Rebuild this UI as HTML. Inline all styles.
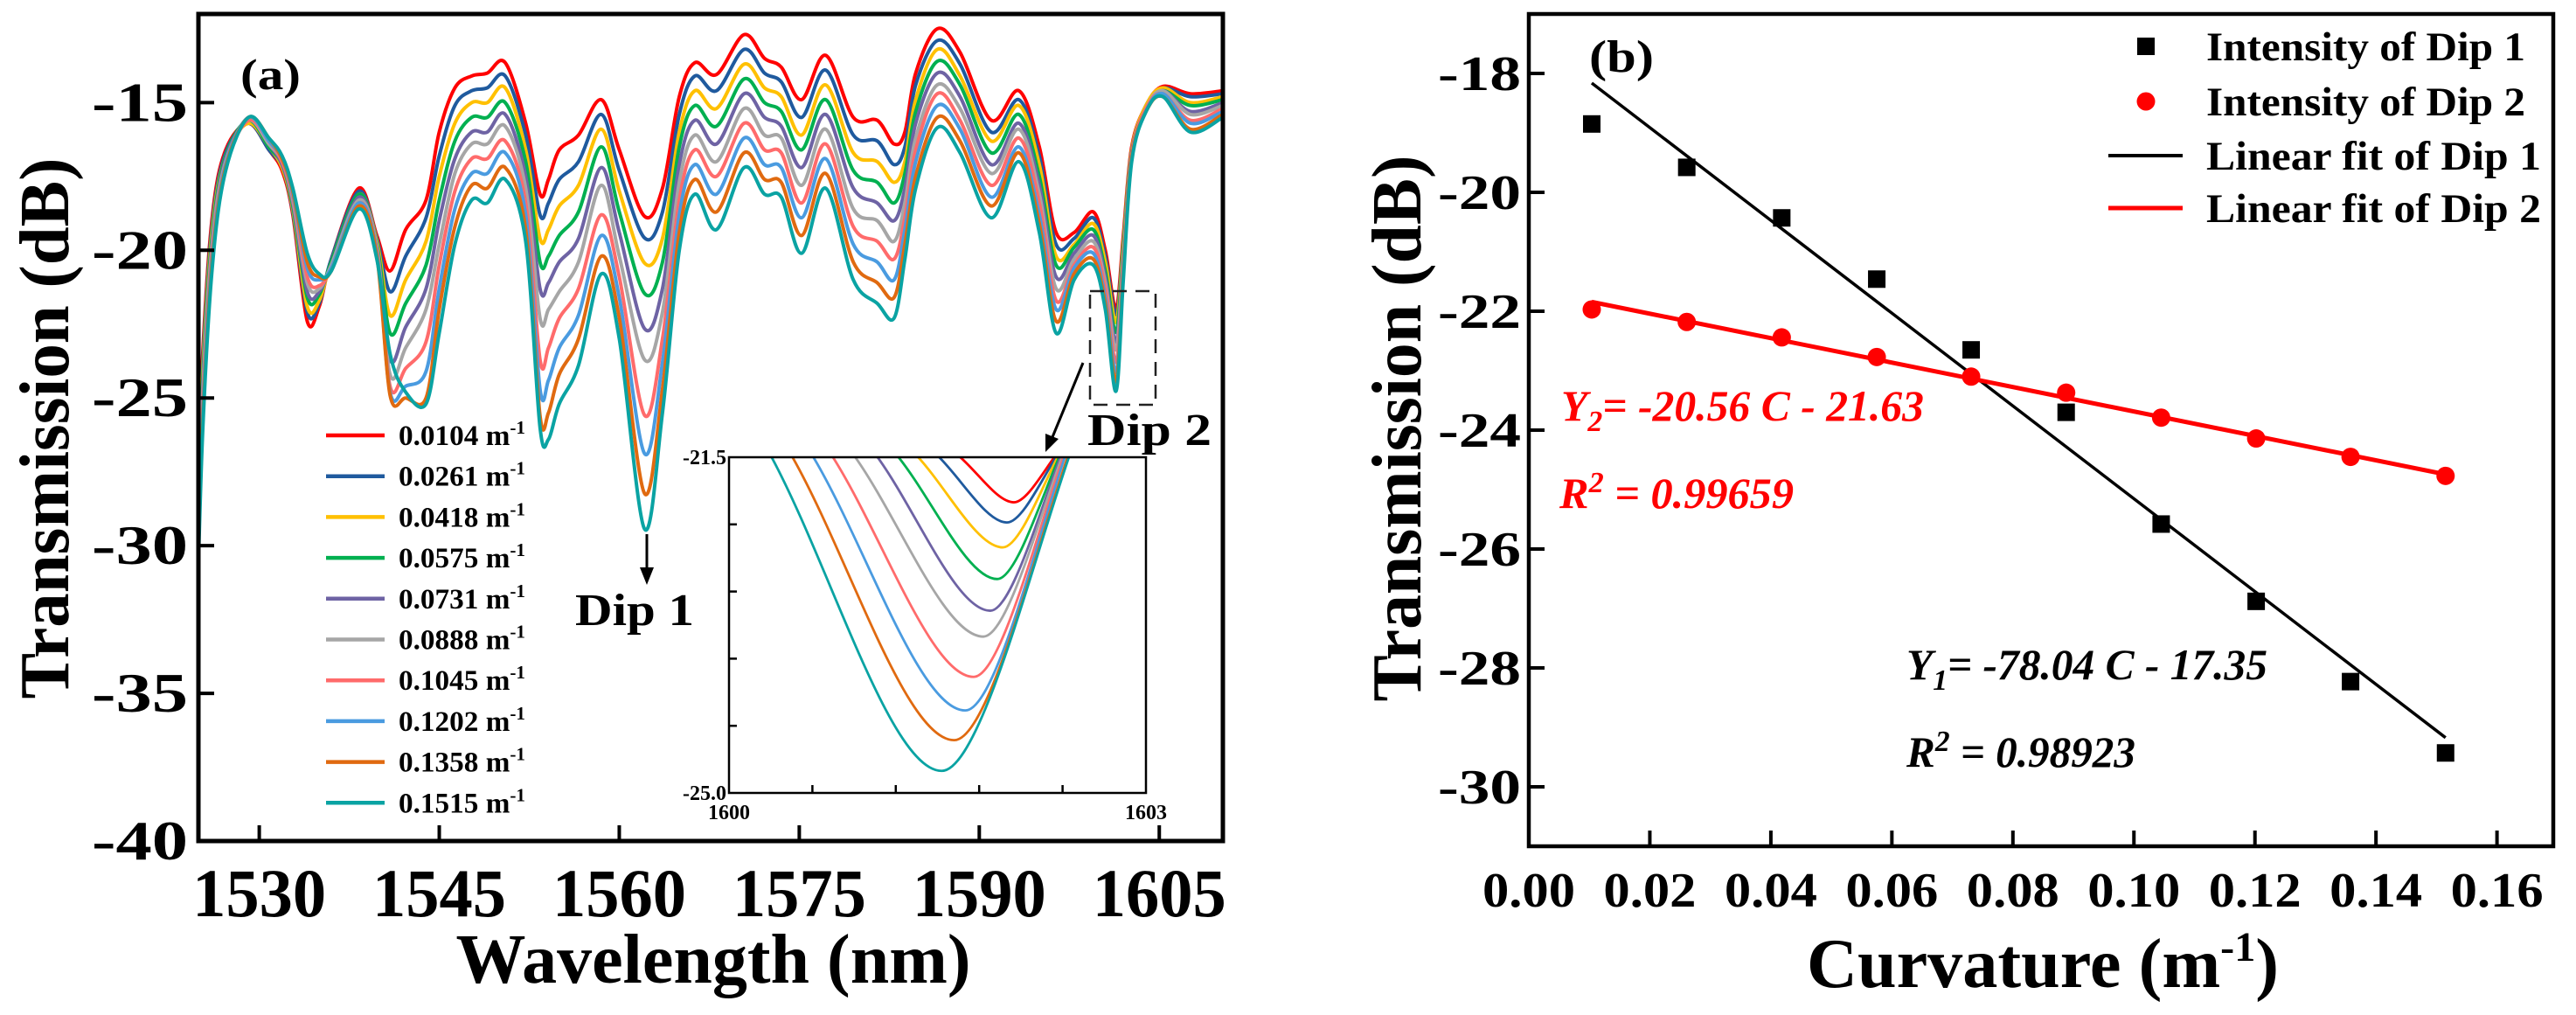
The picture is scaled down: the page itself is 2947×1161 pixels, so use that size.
<!DOCTYPE html>
<html><head><meta charset="utf-8">
<style>
html,body{margin:0;padding:0;background:#fff;overflow:hidden;}
svg{display:block;}
text{font-family:"Liberation Serif","DejaVu Serif",serif;font-weight:bold;fill:#000;}
</style></head>
<body>
<svg id="fig" width="2947" height="1161" viewBox="0 0 2947 1161" xmlns="http://www.w3.org/2000/svg">
<defs>
<clipPath id="clipA"><rect x="227" y="16" width="1172" height="946"/></clipPath>
<clipPath id="clipInset"><rect x="834" y="523" width="477" height="384"/></clipPath>
</defs>
<g id="panelA"></g>
<g id="panelB"></g>
</svg>
<script>
// ---------- Panel (a) data ----------
const wavelengths=[1524.85,1525.3,1526.1,1527.2,1529.1,1530.8,1531.9,1532.8,1534.0,1535.0,1536.0,1538.3,1539.8,1540.9,1542.2,1543.9,1545.0,1546.3,1547.7,1549.0,1550.5,1552.2,1553.4,1554.1,1555.0,1556.6,1558.5,1560.0,1562.1,1563.6,1565.0,1566.3,1568.1,1570.4,1572.1,1573.5,1575.2,1577.2,1579.5,1581.5,1582.9,1583.8,1584.7,1586.5,1588.4,1591.0,1593.3,1595.0,1596.4,1597.9,1599.5,1600.5,1601.4,1602.0,1602.7,1603.9,1605.3,1607.6,1610.3];
const c0104=[-28.5,-23.4,-18.8,-16.6,-15.7,-16.6,-17.3,-18.8,-22.4,-21.9,-20.3,-17.9,-19.5,-20.7,-19.3,-18.3,-16.0,-14.5,-14.1,-14.0,-13.65,-15.7,-18.1,-17.6,-16.6,-16.1,-14.9,-16.6,-18.85,-17.9,-14.8,-13.65,-14.05,-12.7,-13.5,-13.8,-14.9,-13.4,-15.5,-15.6,-16.4,-16.0,-14.0,-12.5,-13.3,-15.6,-14.6,-16.5,-19.4,-19.4,-18.7,-20.0,-21.97,-19.5,-16.5,-15.1,-14.45,-14.7,-14.6];
const c0261=[-28.9,-23.7,-19.0,-16.7,-15.7,-16.6,-17.2,-18.7,-22.1,-21.8,-20.3,-18.0,-19.6,-21.4,-20.2,-18.9,-16.8,-15.1,-14.6,-14.5,-14.1,-16.1,-18.8,-18.4,-17.6,-17.0,-15.4,-17.3,-19.58,-18.7,-15.4,-14.1,-14.6,-13.2,-14.0,-14.3,-15.5,-13.9,-16.1,-16.3,-17.1,-16.5,-14.4,-12.9,-13.7,-16.0,-14.9,-16.8,-19.8,-19.6,-18.9,-20.2,-22.18,-19.7,-16.6,-15.1,-14.5,-14.8,-14.7];
const c0418=[-29.2,-24.0,-19.2,-16.8,-15.7,-16.5,-17.2,-18.6,-21.9,-21.7,-20.4,-18.1,-19.7,-22.2,-21.0,-19.7,-17.5,-15.7,-15.0,-15.0,-14.5,-16.6,-19.6,-19.3,-18.5,-17.8,-15.9,-18.0,-20.43,-19.6,-16.0,-14.6,-15.2,-13.7,-14.5,-14.8,-16.1,-14.4,-16.7,-17.0,-17.7,-17.0,-14.9,-13.2,-14.1,-16.3,-15.1,-17.1,-20.2,-19.8,-19.1,-20.4,-22.44,-19.8,-16.6,-15.1,-14.5,-15.0,-14.8];
const c0575=[-29.6,-24.3,-19.4,-16.8,-15.6,-16.5,-17.1,-18.5,-21.6,-21.5,-20.4,-18.1,-19.8,-22.8,-21.8,-20.5,-18.3,-16.3,-15.5,-15.5,-15.0,-17.0,-20.4,-20.2,-19.5,-18.7,-16.5,-18.7,-21.46,-20.4,-16.5,-15.1,-15.8,-14.2,-15.0,-15.3,-16.6,-14.9,-17.3,-17.7,-18.4,-17.4,-15.3,-13.6,-14.4,-16.7,-15.4,-17.5,-20.5,-19.9,-19.3,-20.7,-22.77,-20.0,-16.7,-15.2,-14.6,-15.1,-14.9];
const c0731=[-30.0,-24.6,-19.6,-16.9,-15.6,-16.4,-17.1,-18.4,-21.4,-21.4,-20.5,-18.2,-19.9,-23.7,-22.6,-21.3,-19.0,-16.9,-16.0,-16.0,-15.4,-17.5,-21.3,-21.1,-20.4,-19.6,-17.2,-19.4,-22.65,-21.3,-17.1,-15.6,-16.4,-14.7,-15.5,-15.8,-17.2,-15.4,-17.9,-18.4,-19.0,-17.9,-15.7,-14.0,-14.8,-17.1,-15.7,-17.8,-20.9,-20.1,-19.5,-20.9,-23.1,-20.2,-16.7,-15.2,-14.6,-15.3,-15.0];
const c0888=[-30.3,-24.8,-19.7,-17.0,-15.6,-16.4,-17.0,-18.3,-21.1,-21.3,-20.5,-18.3,-19.9,-24.2,-23.3,-22.0,-19.8,-17.4,-16.4,-16.4,-15.8,-17.9,-22.3,-22.0,-21.4,-20.4,-17.8,-20.2,-23.7,-22.1,-17.7,-16.1,-17.0,-15.2,-16.1,-16.2,-17.8,-15.9,-18.6,-19.0,-19.7,-18.4,-16.2,-14.4,-15.2,-17.4,-15.9,-18.1,-21.3,-20.3,-19.7,-21.1,-23.37,-20.3,-16.8,-15.2,-14.6,-15.4,-15.1];
const c1045=[-30.7,-25.1,-19.9,-17.1,-15.6,-16.3,-17.0,-18.2,-20.9,-21.2,-20.6,-18.4,-20.0,-24.6,-24.0,-23.1,-20.5,-18.0,-16.9,-16.9,-16.3,-18.4,-23.7,-23.3,-22.3,-21.3,-18.8,-20.9,-25.58,-23.0,-18.3,-16.6,-17.5,-15.7,-16.6,-16.7,-18.4,-16.4,-19.2,-19.7,-20.3,-18.9,-16.6,-14.7,-15.6,-17.8,-16.2,-18.4,-21.7,-20.5,-19.9,-21.3,-23.79,-20.5,-16.8,-15.2,-14.7,-15.6,-15.2];
const c1202=[-31.1,-25.4,-20.1,-17.1,-15.5,-16.3,-16.9,-18.1,-20.6,-21.0,-20.6,-18.4,-20.1,-24.8,-24.6,-24.1,-21.3,-18.6,-17.4,-17.4,-16.7,-18.8,-24.7,-24.4,-23.3,-22.2,-19.5,-21.6,-26.88,-23.8,-18.8,-17.1,-18.1,-16.2,-17.1,-17.2,-18.9,-16.9,-19.8,-20.4,-21.0,-19.3,-17.0,-15.1,-15.9,-18.2,-16.5,-18.8,-22.0,-20.6,-20.1,-21.6,-24.14,-20.7,-16.9,-15.3,-14.7,-15.7,-15.3];
const c1358=[-31.4,-25.7,-20.3,-17.2,-15.5,-16.2,-16.9,-18.0,-20.4,-20.9,-20.7,-18.5,-20.2,-24.9,-25.0,-25.0,-22.0,-19.2,-17.8,-17.9,-17.2,-19.3,-25.6,-25.5,-24.2,-23.0,-20.2,-22.3,-28.23,-24.7,-19.4,-17.6,-18.7,-16.7,-17.6,-17.7,-19.5,-17.4,-20.4,-21.1,-21.6,-19.8,-17.5,-15.5,-16.3,-18.5,-16.7,-19.1,-22.4,-20.8,-20.3,-21.8,-24.45,-20.8,-16.9,-15.3,-14.8,-15.9,-15.4];
const c1515=[-31.8,-26.0,-20.5,-17.3,-15.5,-16.2,-16.8,-17.9,-20.1,-20.8,-20.7,-18.6,-20.3,-23.5,-24.8,-25.2,-22.8,-19.8,-18.3,-18.4,-17.6,-19.7,-26.0,-26.4,-25.2,-23.9,-20.8,-23.0,-29.43,-25.5,-20.0,-18.1,-19.3,-17.2,-18.1,-18.2,-20.1,-17.9,-21.0,-21.8,-22.3,-20.3,-17.9,-15.85,-16.7,-18.9,-17.0,-19.4,-22.8,-21.0,-20.5,-22.0,-24.77,-21.0,-17.0,-15.3,-14.8,-16.0,-15.5];
const curvLabels=["0.0104","0.0261","0.0418","0.0575","0.0731","0.0888","0.1045","0.1202","0.1358","0.1515"];
const xTicksA=[1530,1545,1560,1575,1590,1605];
const yTicksA=[-15,-20,-25,-30,-35,-40];
// inset (Dip 2 zoom) data
const insetLeftNm=[1601.65,1601.50,1601.35,1601.21,1601.06,1600.90,1600.74,1600.60,1600.45,1600.30];
const insetMinNm=[1602.05,1602.00,1601.97,1601.93,1601.88,1601.83,1601.76,1601.70,1601.62,1601.53];
const insetMinDb=[-21.97,-22.18,-22.44,-22.77,-23.1,-23.37,-23.79,-24.14,-24.45,-24.77];
const insetRightNm=[1602.35,1602.36,1602.37,1602.38,1602.39,1602.40,1602.41,1602.42,1602.44,1602.45];

// ---------- Panel (b) data ----------
const curvature=[0.0104,0.0261,0.0418,0.0575,0.0731,0.0888,0.1045,0.1202,0.1358,0.1515];
const dip1=[-18.85,-19.58,-20.43,-21.46,-22.65,-23.70,-25.58,-26.88,-28.23,-29.43];
const dip2=[-21.97,-22.18,-22.44,-22.77,-23.10,-23.37,-23.79,-24.14,-24.45,-24.77];
const fitSlope=[-78.04,-20.56];
const fitIntercept=[-17.35,-21.63];
const xTicksB=[0,0.02,0.04,0.06,0.08,0.10,0.12,0.14,0.16];
const yTicksB=[-18,-20,-22,-24,-26,-28,-30];

const colors=["#ff0000","#1f5a9e","#ffc000","#00b050","#6e63a4","#a6a6a6","#ff6b6b","#4a9be0","#e06a10","#0aa3a3"];
const NS="http://www.w3.org/2000/svg";
function mk(tag,attrs,parent){const e=document.createElementNS(NS,tag);for(const k in attrs)e.setAttribute(k,attrs[k]);parent.appendChild(e);return e;}
function smooth(p){let d=`M${p[0][0].toFixed(1)},${p[0][1].toFixed(1)}`;for(let i=0;i<p.length-1;i++){const p0=p[i-1]||p[i],p1=p[i],p2=p[i+1],p3=p[i+2]||p2;const c1=[p1[0]+(p2[0]-p0[0])/6,p1[1]+(p2[1]-p0[1])/6];const c2=[p2[0]-(p3[0]-p1[0])/6,p2[1]-(p3[1]-p1[1])/6];d+=` C${c1[0].toFixed(1)},${c1[1].toFixed(1)} ${c2[0].toFixed(1)},${c2[1].toFixed(1)} ${p2[0].toFixed(1)},${p2[1].toFixed(1)}`;}return d;}

// ===== Panel A =====
const A=document.getElementById('panelA');
const axL=227,axR=1399,axT=16,axB=962,xMinA=1524.93,xMaxA=1610.3,yMaxA=-12,yMinA=-40;
const xA=v=>axL+(v-xMinA)/(xMaxA-xMinA)*(axR-axL);
const yA=v=>axT+(yMaxA-v)/(yMaxA-yMinA)*(axB-axT);
const series=[c0104,c0261,c0418,c0575,c0731,c0888,c1045,c1202,c1358,c1515];
const cg=mk('g',{'clip-path':'url(#clipA)'},A);


series.forEach((s,k)=>{
  const pts=wavelengths.map((w,i)=>[xA(w),yA(s[i])]);
  const p=mk('path',{d:smooth(pts),fill:'none',stroke:colors[k],'stroke-width':4,'stroke-linejoin':'round'},cg);
  
  
});
const fa=mk('rect',{x:axL,y:axT,width:axR-axL,height:axB-axT,fill:'none',stroke:'#000','stroke-width':5},A);


xTicksA.forEach(t=>{
  mk('line',{x1:xA(t),x2:xA(t),y1:axB,y2:axB-18,stroke:'#000','stroke-width':4},A);
  const tx=mk('text',{x:xA(t),y:1048,'font-size':78,'text-anchor':'middle',textLength:153,lengthAdjust:'spacingAndGlyphs'},A);
  tx.textContent=t;
  
  
});
yTicksA.forEach(t=>{
  mk('line',{x1:axL,x2:axL+18,y1:yA(t),y2:yA(t),stroke:'#000','stroke-width':4},A);
  const tx=mk('text',{x:215,y:yA(t)+21,'font-size':64,'text-anchor':'end',textLength:110,lengthAdjust:'spacingAndGlyphs'},A);
  tx.textContent=t;
  
  
});
// legend
curvLabels.forEach((c,k)=>{
  const y=498+k*46.7;
  const l=mk('line',{x1:373,x2:440,y1:y,y2:y,stroke:colors[k],'stroke-width':4.5},A);
  
  
  const t=mk('text',{x:456,y:y+11,'font-size':33,textLength:145,lengthAdjust:'spacingAndGlyphs'},A);
  t.innerHTML=c+' m<tspan dy="-13" font-size="21">-1</tspan>';
  
  
});
// inset
const iL=834,iR=1311,iT=523,iB=907;
const xI=v=>iL+(v-1600)/3*(iR-iL);
const yI=v=>iT+(-21.5-v)/3.5*(iB-iT);
const ibg=mk('rect',{x:iL,y:iT,width:iR-iL,height:iB-iT,fill:'#fff',stroke:'none'},A);


const ig=mk('g',{'clip-path':'url(#clipInset)'},A);


curvLabels.forEach((c,k)=>{
  const x0=xI(insetLeftNm[k]),xm=xI(insetMinNm[k]),x1=xI(insetRightNm[k]),ym=yI(insetMinDb[k]),yt=iT-2;
  const dl=xm-x0,dr=x1-xm;
  const d=`M${x0},${yt} C${x0+0.35*dl},${yt+0.35*(ym-yt)} ${xm-0.3*dl},${ym} ${xm},${ym} C${xm+0.3*dr},${ym} ${x1-0.3*dr},${yt+0.35*(ym-yt)} ${x1},${yt}`;
  const p=mk('path',{d:d,fill:'none',stroke:colors[k],'stroke-width':2.8},ig);
  
  
});
const ifr=mk('rect',{x:iL,y:iT,width:iR-iL,height:iB-iT,fill:'none',stroke:'#000','stroke-width':2.5},A);


for(let i=1;i<5;i++){mk('line',{x1:iL+i*(iR-iL)/5,x2:iL+i*(iR-iL)/5,y1:iB,y2:iB-9,stroke:'#000','stroke-width':2.5},A);}
for(let i=1;i<5;i++){mk('line',{x1:iL,x2:iL+9,y1:iT+i*(iB-iT)/5,y2:iT+i*(iB-iT)/5,stroke:'#000','stroke-width':2.5},A);}
[['-21.5',iL-3,iT+8,'end'],['-25.0',iL-3,iB+8,'end'],['1600',iL,iB+30,'middle'],['1603',iR,iB+30,'middle']].forEach(a=>{
  const t=mk('text',{x:a[1],y:a[2],'font-size':24,'text-anchor':a[3]},A);
  t.textContent=a[0];
  
  
});
</script>
<script>
(function(){
const A=document.getElementById('panelA');
function mk(tag,attrs,parent){const e=document.createElementNS("http://www.w3.org/2000/svg",tag);for(const k in attrs)e.setAttribute(k,attrs[k]);parent.appendChild(e);return e;}
const box=mk('rect',{x:1247,y:333,width:75,height:130,fill:'none',stroke:'#222','stroke-width':2.5,'stroke-dasharray':'16 10'},A);


const a1=mk('line',{x1:740,y1:611,x2:740,y2:652,stroke:'#000','stroke-width':3},A);


mk('path',{d:'M732,649 L748,649 L740,669 Z',fill:'#000'},A);
const a2=mk('line',{x1:1239,y1:415,x2:1204,y2:500,stroke:'#000','stroke-width':3},A);


mk('path',{d:'M1196,496 L1211,502 L1196,517 Z',fill:'#000'},A);
const t1=mk('text',{x:658,y:715,'font-size':52,textLength:136,lengthAdjust:'spacingAndGlyphs'},A);t1.textContent='Dip 1';


const t2=mk('text',{x:1244,y:509,'font-size':52,textLength:142,lengthAdjust:'spacingAndGlyphs'},A);t2.textContent='Dip 2';


const la=mk('text',{x:275,y:102,'font-size':50,textLength:69,lengthAdjust:'spacingAndGlyphs'},A);la.textContent='(a)';


const xt=mk('text',{x:816,y:1124,'font-size':80,'text-anchor':'middle',textLength:589,lengthAdjust:'spacingAndGlyphs'},A);xt.textContent='Wavelength (nm)';


const yt=mk('text',{x:0,y:0,'font-size':80,'text-anchor':'middle',textLength:619,lengthAdjust:'spacingAndGlyphs',transform:'translate(78,490) rotate(-90)'},A);yt.textContent='Transmission (dB)';


})();
</script>
<script>
(function(){
const B=document.getElementById('panelB');
const NS="http://www.w3.org/2000/svg";
function mk(tag,attrs,parent){const e=document.createElementNS(NS,tag);for(const k in attrs)e.setAttribute(k,attrs[k]);parent.appendChild(e);return e;}
const bL=1749,bR=2921,bT=16,bB=968,xMin=0,xMax=0.1693,yMax=-17,yMin=-31;
const xB=v=>bL+(v-xMin)/(xMax-xMin)*(bR-bL);
const yB=v=>bT+(yMax-v)/(yMax-yMin)*(bB-bT);
const fr=mk('rect',{x:bL,y:bT,width:bR-bL,height:bB-bT,fill:'none',stroke:'#000','stroke-width':4.5},B);


xTicksB.forEach(t=>{
  mk('line',{x1:xB(t),x2:xB(t),y1:bB,y2:bB-18,stroke:'#000','stroke-width':4},B);
  const tx=mk('text',{x:xB(t),y:1037,'font-size':56,'text-anchor':'middle',textLength:106,lengthAdjust:'spacingAndGlyphs'},B);
  tx.textContent=t.toFixed(2);
  
  
});
yTicksB.forEach(t=>{
  mk('line',{x1:bL,x2:bL+18,y1:yB(t),y2:yB(t),stroke:'#000','stroke-width':4},B);
  const tx=mk('text',{x:1740,y:yB(t)+19,'font-size':56,'text-anchor':'end',textLength:95,lengthAdjust:'spacingAndGlyphs'},B);
  tx.textContent=t;
  
  
});
const fitColors=['#000','#ff0000'],fitW=[3.5,5];
fitSlope.forEach((m,i)=>{
  const c0=curvature[0],c1=curvature[curvature.length-1];
  const l=mk('line',{x1:xB(c0),y1:yB(m*c0+fitIntercept[i]),x2:xB(c1),y2:yB(m*c1+fitIntercept[i]),stroke:fitColors[i],'stroke-width':fitW[i]},B);
  
  
});
curvature.forEach((c,i)=>{
  const s=mk('rect',{x:xB(c)-10,y:yB(dip1[i])-10,width:20,height:20,fill:'#000'},B);
  
  
  const ci=mk('circle',{cx:xB(c),cy:yB(dip2[i]),r:10.5,fill:'#ff0000'},B);
  
  
});
const lg=mk('g',{},B);


mk('rect',{x:2445,y:43,width:20,height:20,fill:'#000'},lg);
mk('circle',{cx:2455,cy:116,r:10.5,fill:'#ff0000'},lg);
mk('line',{x1:2412,x2:2497,y1:178,y2:178,stroke:'#000','stroke-width':4},lg);
mk('line',{x1:2412,x2:2497,y1:238,y2:238,stroke:'#ff0000','stroke-width':5},lg);
[['Intensity of Dip 1',53,365],['Intensity of Dip 2',116,365],['Linear fit of Dip 1',178,383],['Linear fit of Dip 2',238,383]].forEach(a=>{
  const t=mk('text',{x:2524,y:a[1]+16,'font-size':47,textLength:a[2],lengthAdjust:'spacingAndGlyphs'},lg);
  t.textContent=a[0];
  
  
});
const lb=mk('text',{x:1818,y:82,'font-size':52,textLength:74,lengthAdjust:'spacingAndGlyphs'},B);lb.textContent='(b)';


function eq(x,y,w,fill,html,name){const t=mk('text',{x:x,y:y,'font-size':50,'font-style':'italic',textLength:w,lengthAdjust:'spacingAndGlyphs'},B);t.innerHTML=html;t.style.fill=fill;}
eq(1786,481,415,'#ff0000','Y<tspan dy="12" font-size="34">2</tspan><tspan dy="-12">= -20.56 C - 21.63</tspan>','fit-equation-dip2');
eq(1784,581,268,'#ff0000','R<tspan dy="-18" font-size="34">2</tspan><tspan dy="18"> = 0.99659</tspan>','r-squared-dip2');
eq(2181,777,413,'#000','Y<tspan dy="12" font-size="34">1</tspan><tspan dy="-12">= -78.04 C - 17.35</tspan>','fit-equation-dip1');
eq(2181,877,262,'#000','R<tspan dy="-18" font-size="34">2</tspan><tspan dy="18"> = 0.98923</tspan>','r-squared-dip1');
const xt=mk('text',{x:2337,y:1129,'font-size':80,'text-anchor':'middle',textLength:540,lengthAdjust:'spacingAndGlyphs'},B);
xt.innerHTML='Curvature (m<tspan dy="-30" font-size="48">-1</tspan><tspan dy="30">)</tspan>';


const yt=mk('text',{x:0,y:0,'font-size':80,'text-anchor':'middle',textLength:625,lengthAdjust:'spacingAndGlyphs',transform:'translate(1625,490) rotate(-90)'},B);
yt.textContent='Transmission (dB)';


})();
</script>
</body></html>
